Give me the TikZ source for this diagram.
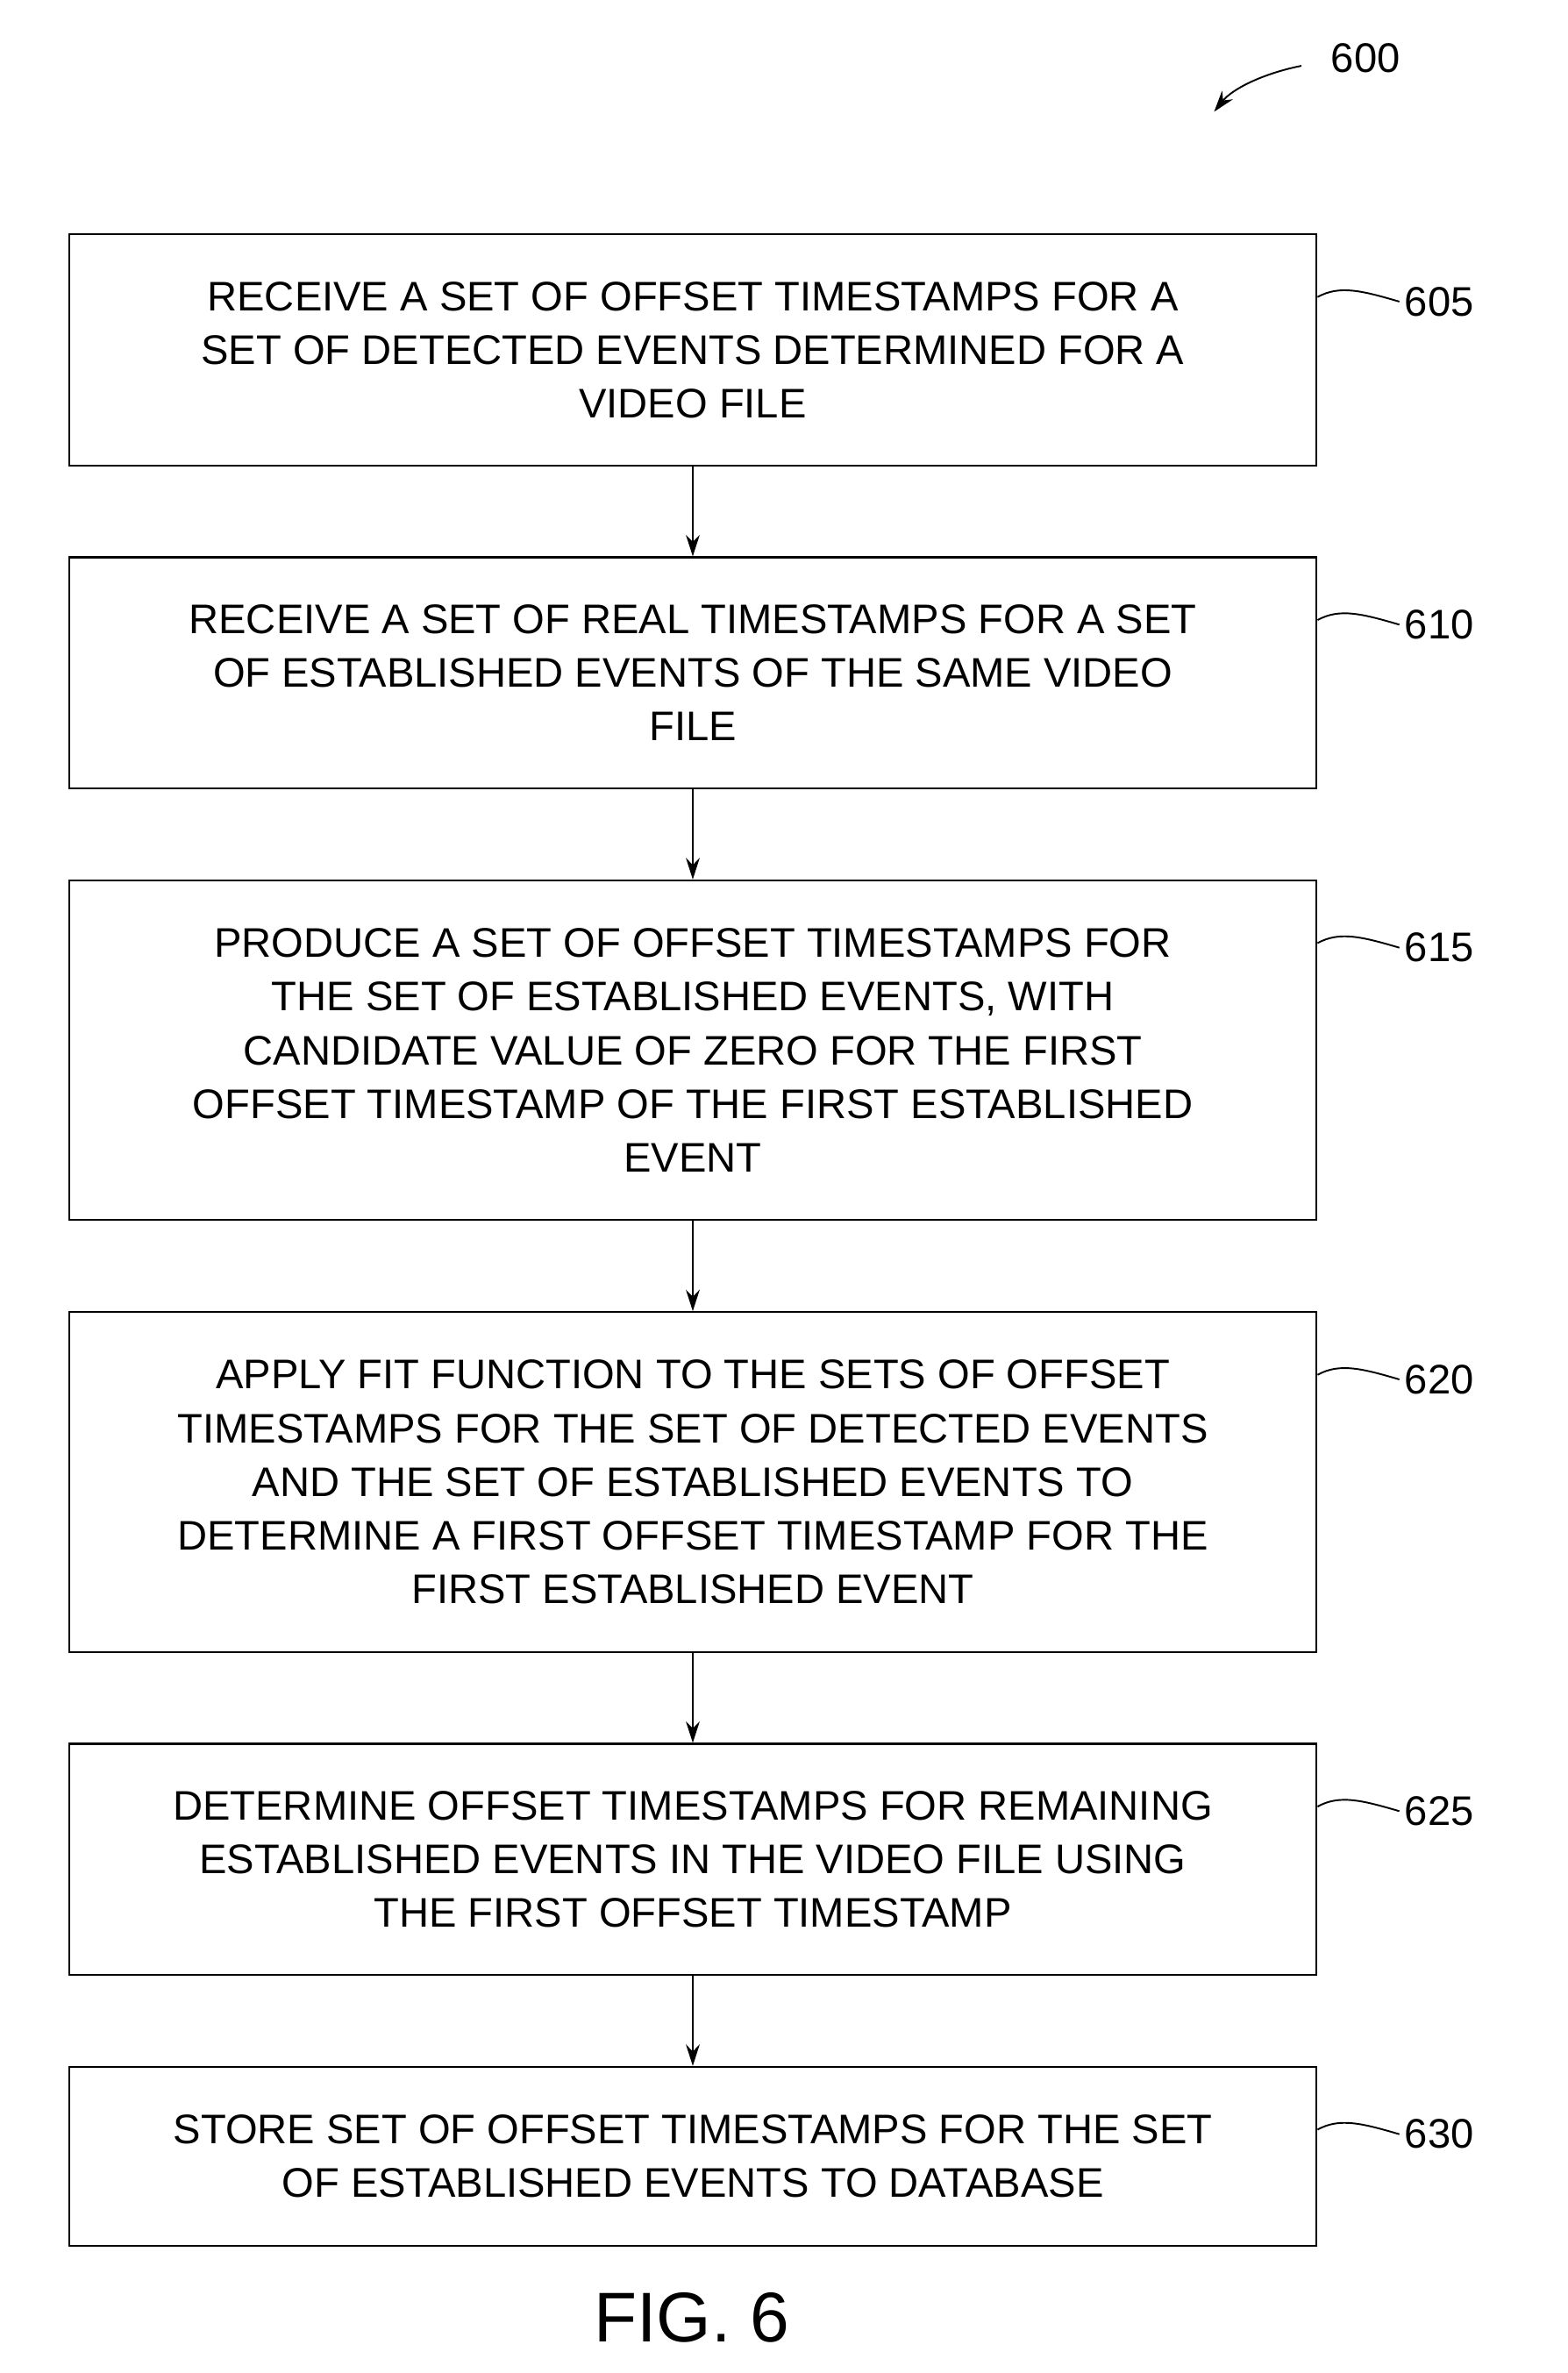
\documentclass[tikz,border=0pt]{standalone}
\usepackage{fontspec}
\setmainfont{Liberation Sans}
\usetikzlibrary{positioning,arrows.meta}
\begin{document}
\begin{tikzpicture}[x=1pt,y=-1pt]
        % Define styles
        \tikzset{
            stepbox/.style={draw, line width=1.2pt, minimum width=815pt, align=center, inner sep=0pt,
                font=\fontsize{27}{35}\selectfont},
            flow/.style={-{Stealth[length=14pt,width=9pt]}, line width=1.2pt},
            refnum/.style={font=\fontsize{27}{32}\selectfont, anchor=west}
        }
        \useasboundingbox (0,0) rectangle (1024,1550);
        % Process steps
        \node[stepbox, minimum height=151pt] (s605) at (452.5,228.5) {RECEIVE A SET OF OFFSET TIMESTAMPS FOR A\\SET OF DETECTED EVENTS DETERMINED FOR A\\VIDEO FILE};
        \node[stepbox, minimum height=151pt] (s610) at (452.5,439.5) {RECEIVE A SET OF REAL TIMESTAMPS FOR A SET\\OF ESTABLISHED EVENTS OF THE SAME VIDEO\\FILE};
        \node[stepbox, minimum height=222pt] (s615) at (452.5,686) {PRODUCE A SET OF OFFSET TIMESTAMPS FOR\\THE SET OF ESTABLISHED EVENTS, WITH\\CANDIDATE VALUE OF ZERO FOR THE FIRST\\OFFSET TIMESTAMP OF THE FIRST ESTABLISHED\\EVENT};
        \node[stepbox, minimum height=222pt] (s620) at (452.5,968) {APPLY FIT FUNCTION TO THE SETS OF OFFSET\\TIMESTAMPS FOR THE SET OF DETECTED EVENTS\\AND THE SET OF ESTABLISHED EVENTS TO\\DETERMINE A FIRST OFFSET TIMESTAMP FOR THE\\FIRST ESTABLISHED EVENT};
        \node[stepbox, minimum height=151pt] (s625) at (452.5,1214.5) {DETERMINE OFFSET TIMESTAMPS FOR REMAINING\\ESTABLISHED EVENTS IN THE VIDEO FILE USING\\THE FIRST OFFSET TIMESTAMP};
        \node[stepbox, minimum height=117pt] (s630) at (452.5,1408.5) {STORE SET OF OFFSET TIMESTAMPS FOR THE SET\\OF ESTABLISHED EVENTS TO DATABASE};
        % Connectors
        \foreach \a/\b in {605/610,610/615,615/620,620/625,625/630}
            \draw[flow] (s\a.south) -- (s\b.north);
        % Reference numerals
        \foreach \n/\y in {605/197,610/408,615/619,620/901,625/1183,630/1394} {
            \node[refnum] (r\n) at (914,\y) {\n};
            \draw[line width=1.1pt] (s\n.east |- 0,\y-3) .. controls (875,\y-11) and (890,\y-7) .. (r\n.west);
        }
        % Figure number
        \node[font=\fontsize{27}{32}\selectfont] (n600) at (892,38) {600};
        \coordinate (a600) at (793,73);
        \draw[-{Stealth[length=14pt,width=9pt]}, line width=1.1pt] (850,43) .. controls (825,48) and (805,58) .. (a600);
        \node[font=\fontsize{46}{50}\selectfont] (fig) at (452,1514) {FIG. 6};
    \end{tikzpicture}
\end{document}
